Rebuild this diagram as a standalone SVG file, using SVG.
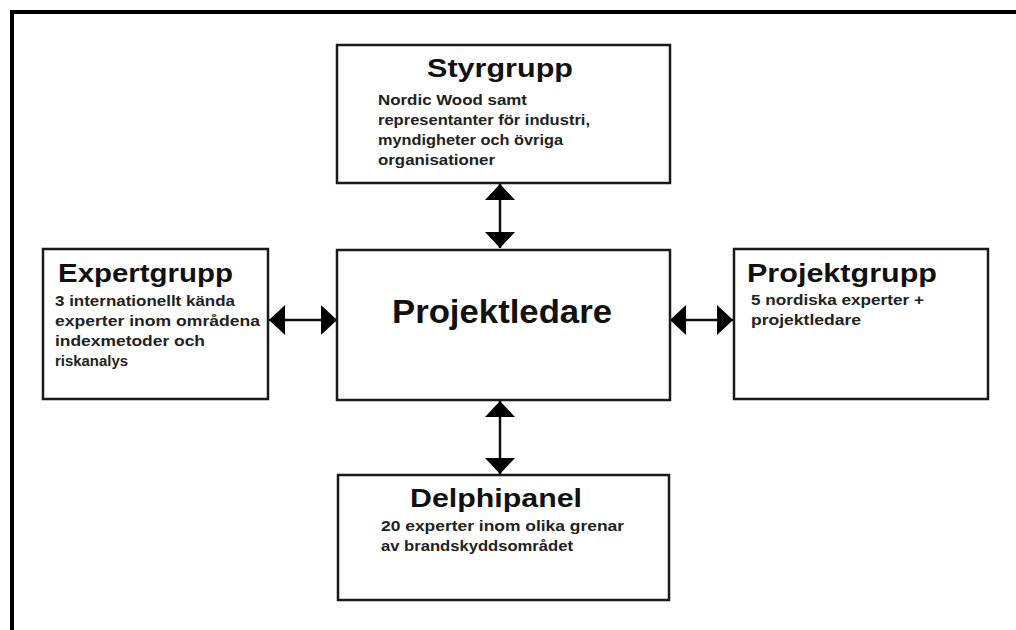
<svg xmlns="http://www.w3.org/2000/svg" width="1016" height="630" viewBox="0 0 1016 630">
<defs>
<style>
.box{fill:#fff;stroke:#1a1a1a;stroke-width:2.5}
.title{font-family:"Liberation Sans",Arial,sans-serif;font-weight:bold;font-size:26px;fill:#111}
.sub{font-family:"Liberation Sans",Arial,sans-serif;font-weight:bold;font-size:15px;fill:#222}
.conn{stroke:#111;stroke-width:2.5;fill:none;marker-start:url(#ah);marker-end:url(#ah)}
</style>
<marker id="ah" viewBox="0 0 16 30" refX="16" refY="15" markerWidth="16" markerHeight="30" markerUnits="userSpaceOnUse" orient="auto-start-reverse">
<path d="M0,0 L16,15 L0,30 Z" fill="#000"/>
</marker>
</defs>
<rect x="0" y="0" width="1016" height="630" fill="#fff"/>
<path d="M12,630 L12,12 L1016,12" fill="none" stroke="#000" stroke-width="4"/>

<g id="connectors">
<line class="conn" x1="500" y1="184" x2="500" y2="248"/>
<line class="conn" x1="500" y1="401" x2="500" y2="474"/>
<line class="conn" x1="269" y1="320" x2="337" y2="320"/>
<line class="conn" x1="670" y1="320" x2="733" y2="320"/>
</g>

<g id="styrgrupp">
<rect class="box" x="337" y="45" width="333" height="138"/>
<text class="title" x="427" y="77" textLength="146" lengthAdjust="spacingAndGlyphs">Styrgrupp</text>
<text class="sub" x="378" y="105" textLength="149" lengthAdjust="spacingAndGlyphs">Nordic Wood samt</text>
<text class="sub" x="378" y="125" textLength="212" lengthAdjust="spacingAndGlyphs">representanter för industri,</text>
<text class="sub" x="378" y="145" textLength="185" lengthAdjust="spacingAndGlyphs">myndigheter och övriga</text>
<text class="sub" x="378" y="165" textLength="117" lengthAdjust="spacingAndGlyphs">organisationer</text>
</g>

<g id="projektledare">
<rect class="box" x="337" y="250" width="333" height="150"/>
<text class="title" x="392" y="323" style="font-size:34px" textLength="220" lengthAdjust="spacingAndGlyphs">Projektledare</text>
</g>

<g id="expertgrupp">
<rect class="box" x="43" y="249" width="225" height="150"/>
<text class="title" x="58" y="282" textLength="175" lengthAdjust="spacingAndGlyphs">Expertgrupp</text>
<text class="sub" x="55" y="306" textLength="180" lengthAdjust="spacingAndGlyphs">3 internationellt kända</text>
<text class="sub" x="55" y="326" textLength="205" lengthAdjust="spacingAndGlyphs">experter inom områdena</text>
<text class="sub" x="55" y="346" textLength="150" lengthAdjust="spacingAndGlyphs">indexmetoder och</text>
<text class="sub" x="55" y="366" textLength="73" lengthAdjust="spacingAndGlyphs">riskanalys</text>
</g>

<g id="projektgrupp">
<rect class="box" x="734" y="249" width="254" height="150"/>
<text class="title" x="747" y="282" textLength="190" lengthAdjust="spacingAndGlyphs">Projektgrupp</text>
<text class="sub" x="751" y="305" textLength="173" lengthAdjust="spacingAndGlyphs">5 nordiska experter +</text>
<text class="sub" x="751" y="325" textLength="110" lengthAdjust="spacingAndGlyphs">projektledare</text>
</g>

<g id="delphipanel">
<rect class="box" x="338" y="475" width="331" height="125"/>
<text class="title" x="410" y="507" textLength="172" lengthAdjust="spacingAndGlyphs">Delphipanel</text>
<text class="sub" x="381" y="531" textLength="243" lengthAdjust="spacingAndGlyphs">20 experter inom olika grenar</text>
<text class="sub" x="381" y="551" textLength="192" lengthAdjust="spacingAndGlyphs">av brandskyddsområdet</text>
</g>
</svg>
